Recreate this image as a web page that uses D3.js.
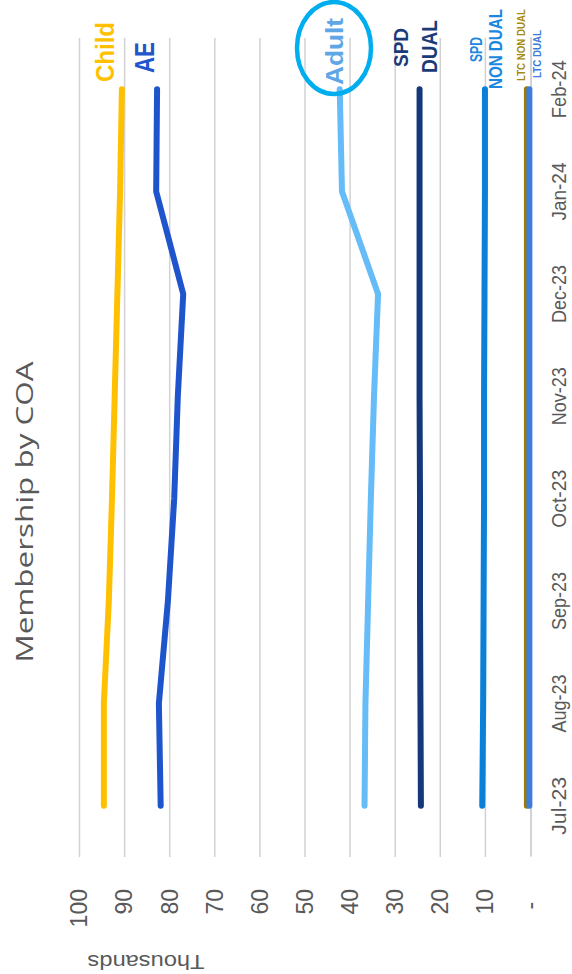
<!DOCTYPE html>
<html>
<head>
<meta charset="utf-8">
<script src="https://cdn.jsdelivr.net/npm/d3@7"></script>
<style>
  html, body { margin: 0; padding: 0; background: #fff; }
  svg { display: block; }
</style>
</head>
<body>
<script>
// Monthly membership by category of aid (thousands)
const months = ["Jul-23", "Aug-23", "Sep-23", "Oct-23", "Nov-23", "Dec-23", "Jan-24", "Feb-24"];
const child      = [94.6, 94.6, 93.5, 92.8, 92.2, 91.6, 91.0, 90.6];
const ae         = [82.0, 82.4, 80.4, 79.0, 78.2, 77.0, 83.0, 82.8];
const adult      = [36.8, 36.6, 36.0, 35.4, 34.7, 33.8, 41.8, 42.3];
const spdDual    = [24.3, 24.4, 24.5, 24.5, 24.6, 24.6, 24.6, 24.6];
const spdNonDual = [10.7, 10.5, 10.4, 10.3, 10.3, 10.2, 10.1, 10.1];
const ltcNonDual = [0.8, 0.8, 0.8, 0.8, 0.8, 0.8, 0.8, 0.8];
const ltcDual    = [0.25, 0.25, 0.25, 0.25, 0.25, 0.25, 0.25, 0.25];
const yTicks = [0, 10, 20, 30, 40, 50, 60, 70, 80, 90, 100];

const series = [
  { name: "Child",        values: child,      color: "#FFC000" },
  { name: "AE",           values: ae,         color: "#1F55CC" },
  { name: "Adult",        values: adult,      color: "#66BCF7" },
  { name: "SPD DUAL",     values: spdDual,    color: "#15387A" },
  { name: "SPD NON DUAL", values: spdNonDual, color: "#0A80D8" },
  { name: "LTC NON DUAL", values: ltcNonDual, color: "#9C7B00" },
  { name: "LTC DUAL",     values: ltcDual,    color: "#3D7DDF" }
];

const W = 572, H = 974;
const svg = d3.select("body").append("svg").attr("width", W).attr("height", H);

// The chart is laid out in a landscape frame (H wide, W tall) and turned a quarter turn
const g = svg.append("g").attr("transform", `translate(0,${H}) rotate(-90)`);

const x = d3.scaleBand().domain(months).range([117, 936]);
const xc = m => x(m) + x.bandwidth() / 2;
const y = d3.scaleLinear().domain([0, 100]).range([530.5, 79.5]);

// horizontal gridlines
g.append("g").selectAll("line")
  .data(yTicks.filter(t => t > 0))
  .join("line")
  .attr("x1", 117).attr("x2", 936)
  .attr("y1", d => y(d)).attr("y2", d => y(d))
  .attr("stroke", "#d2d2d2").attr("stroke-width", 1.5);

// category axis
const xAxis = g.append("g")
  .attr("transform", `translate(0,${y(0)})`)
  .call(d3.axisBottom(x).tickSize(0).tickPadding(22));
xAxis.select(".domain").attr("stroke", "#c4c4c4").attr("stroke-width", 1.5);
xAxis.selectAll("text")
  .attr("font-family", "'Liberation Sans', Arial, sans-serif")
  .attr("font-size", 19.5)
  .attr("textLength", 58)
  .attr("lengthAdjust", "spacingAndGlyphs")
  .attr("fill", "#595959");

// value axis (accounting style: zero shown as a dash)
const yAxis = g.append("g")
  .attr("transform", "translate(117,0)")
  .call(d3.axisLeft(y).tickValues(yTicks).tickSize(0).tickPadding(32)
    .tickFormat(d => d === 0 ? "-\u00a0\u00a0" : d));
yAxis.select(".domain").remove();
yAxis.selectAll("text")
  .attr("font-family", "'Liberation Sans', Arial, sans-serif")
  .attr("font-size", 23)
  .attr("fill", "#595959")
  .style("white-space", "pre");

// display unit label
g.append("text")
  .attr("transform", "translate(19,146) rotate(-90)")
  .attr("text-anchor", "middle")
  .attr("font-family", "'Liberation Sans', Arial, sans-serif")
  .attr("font-size", 21)
  .attr("textLength", 117)
  .attr("lengthAdjust", "spacingAndGlyphs")
  .attr("fill", "#595959")
  .text("Thousands");

// title
g.append("text")
  .attr("x", 462).attr("y", 33)
  .attr("text-anchor", "middle")
  .attr("font-family", "'Open Sans', sans-serif")
  .attr("font-size", 23)
  .attr("textLength", 301)
  .attr("lengthAdjust", "spacingAndGlyphs")
  .attr("fill", "#595959")
  .text("Membership by COA");

// series lines
const line = d3.line()
  .x((d, i) => xc(months[i]))
  .y(d => y(d));

g.append("g").selectAll("path")
  .data(series)
  .join("path")
  .attr("d", d => line(d.values))
  .attr("fill", "none")
  .attr("stroke", d => d.color)
  .attr("stroke-width", 6)
  .attr("stroke-linecap", "round")
  .attr("stroke-linejoin", "round");

// series annotations above the latest month (each squeezed to its set width)
const notes = [
  { text: "Child",        color: "#FFC000", x: 892, y: 114, size: 26,   len: 60 },
  { text: "AE",           color: "#2255CC", x: 901, y: 154, size: 27,   len: 31 },
  { text: "Adult",        color: "#5FA6E6", x: 889, y: 343, size: 23,   len: 67 },
  { text: "SPD",          color: "#1B3A78", x: 907, y: 408, size: 21,   len: 39 },
  { text: "DUAL",         color: "#1B3A78", x: 901, y: 437, size: 22,   len: 53 },
  { text: "SPD",          color: "#1A88E0", x: 912, y: 482, size: 16,   len: 25 },
  { text: "NON DUAL",     color: "#1A88E0", x: 885, y: 502, size: 19,   len: 80 },
  { text: "LTC NON DUAL", color: "#A68A0C", x: 893, y: 525, size: 11.5, len: 72 },
  { text: "LTC DUAL",     color: "#3B7BE0", x: 896, y: 541, size: 11,   len: 48 }
];

g.append("g").selectAll("text")
  .data(notes)
  .join("text")
  .attr("font-family", "'Liberation Sans', Arial, sans-serif")
  .attr("font-weight", "bold")
  .attr("font-size", d => d.size)
  .attr("fill", d => d.color)
  .text(d => d.text)
  .each(function (d) {
    const natural = this.getComputedTextLength();
    const sx = natural > 0 ? d.len / natural : 1;
    d3.select(this).attr("transform", `translate(${d.x},${d.y}) scale(${sx},1)`);
  });

// highlight ring around the Adult label
g.append("ellipse")
  .attr("cx", 926).attr("cy", 334)
  .attr("rx", 46).attr("ry", 37)
  .attr("fill", "none")
  .attr("stroke", "#00AEEF")
  .attr("stroke-width", 4.5);
</script>
</body>
</html>
